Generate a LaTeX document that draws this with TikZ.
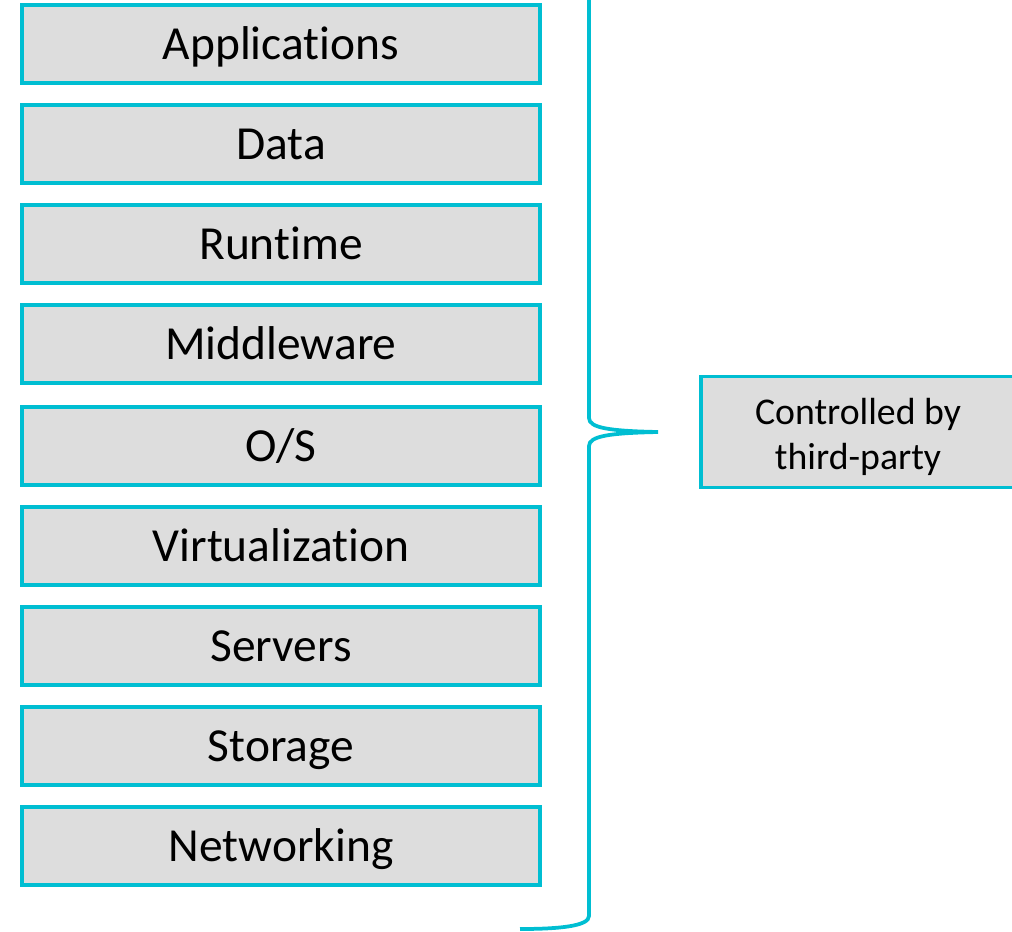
\documentclass[tikz,border=0pt]{standalone}
\usepackage{fontspec}
\setmainfont{Carlito}[Ligatures=NoCommon]
\definecolor{layercyan}{RGB}{0,190,210}
\definecolor{layergray}{RGB}{221,221,221}
\begin{document}
\begin{tikzpicture}[x=0.02cm,y=-0.02cm,
  layer/.style={draw=layercyan,fill=layergray,line width=0.075cm,minimum width=10.36cm,minimum height=1.56cm,inner sep=0pt,text height=19.2pt,text depth=1.8pt,font=\fontsize{27}{30}\selectfont},
  owner/.style={draw=layercyan,fill=layergray,line width=0.075cm,minimum width=6.28cm,minimum height=2.22cm,inner sep=0pt,align=center,font=\fontsize{21.5}{25.6}\selectfont}]
  \useasboundingbox (0,0) rectangle (1012,931);
  \node[layer] (apps) at (281,44) {Applications};
  \node[layer] (data) at (281,144) {Data};
  \node[layer] (runtime) at (281,244) {Runtime};
  \node[layer] (middleware) at (281,344) {Middleware};
  \node[layer] (os) at (281,446) {O/S};
  \node[layer] (virt) at (281,546) {Virtualization};
  \node[layer] (servers) at (281,646) {Servers};
  \node[layer] (storage) at (281,746) {Storage};
  \node[layer] (net) at (281,846) {Networking};
  \node[owner] (third) at (858,432) {\rule{0pt}{0.95em}Controlled by\\third-party};
  % brace
  \draw[layercyan,line width=0.075cm] (589,-10) -- (589,418)
    .. controls (589,428) and (610,431) .. (658,432)
    .. controls (610,433) and (589,436) .. (589,446) -- (589,916)
    .. controls (589,926) and (560,929) .. (520,929);
\end{tikzpicture}
\end{document}
